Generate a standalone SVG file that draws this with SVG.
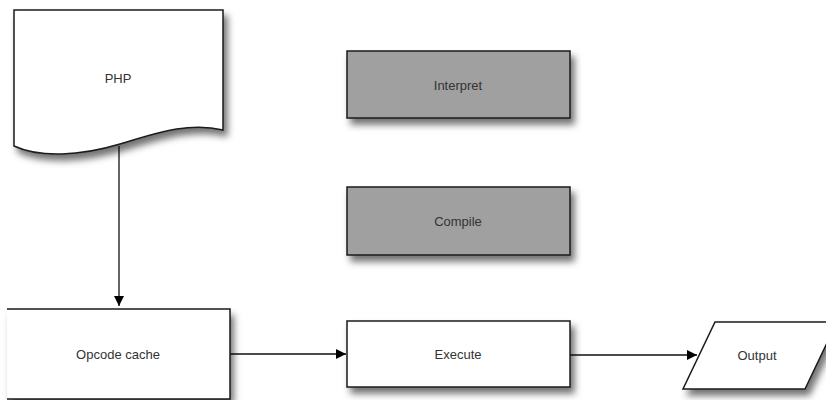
<svg xmlns="http://www.w3.org/2000/svg" width="826" height="400" viewBox="0 0 826 400">
  <defs>
    <filter id="shadow" x="-20%" y="-20%" width="150%" height="160%">
      <feDropShadow dx="4" dy="6" stdDeviation="3.5" flood-color="#000" flood-opacity="0.55"/>
    </filter>
    <marker id="arrow" viewBox="0 0 10 10" refX="10" refY="5" markerWidth="10" markerHeight="10" markerUnits="userSpaceOnUse" orient="auto">
      <path d="M0,0 L10,5 L0,10 Z" fill="#000"/>
    </marker>
  </defs>
  <style>
    .box { stroke: #1a1a1a; stroke-width: 1.5; filter: url(#shadow); }
    .white { fill: #fff; }
    .grey { fill: #a0a0a0; }
    .label { font-family: "Liberation Sans", Arial, sans-serif; font-size: 13px; fill: #333; text-anchor: middle; dominant-baseline: central; }
    .edge { stroke: #111; stroke-width: 1.3; fill: none; marker-end: url(#arrow); }
  </style>
  <rect width="826" height="400" fill="#fff"/>

  <g id="connectors">
    <path class="edge" d="M119,146 L119,306"/>
    <path class="edge" d="M230,354 L346,354"/>
    <path class="edge" d="M570,355 L697,355"/>
  </g>

  <g id="php">
    <path class="box white" d="M14,10 L223,10 L223,130 C190,122 160,132 120,144 C80,156 40,158 14,146 Z"/>
    <text class="label" x="118" y="78">PHP</text>
  </g>

  <g id="interpret">
    <rect class="box grey" x="347" y="51" width="223" height="67"/>
    <text class="label" x="458" y="85">Interpret</text>
  </g>

  <g id="compile">
    <rect class="box grey" x="347" y="187" width="223" height="68"/>
    <text class="label" x="458" y="221">Compile</text>
  </g>

  <g id="opcode-cache">
    <!-- left side runs off the sheet, so only top, right and bottom edges are stroked -->
    <rect x="7" y="309" width="223" height="90" fill="#fff" filter="url(#shadow)"/>
    <path d="M7,309 L230,309 L230,399 L7,399" fill="none" stroke="#1a1a1a" stroke-width="1.5"/>
    <text class="label" x="118" y="354">Opcode cache</text>
  </g>

  <g id="execute">
    <rect class="box white" x="347" y="321" width="223" height="66"/>
    <text class="label" x="458" y="354">Execute</text>
  </g>

  <g id="output">
    <path class="box white" d="M715,322 L837,322 L805,389 L683,389 Z"/>
    <text class="label" x="757" y="355">Output</text>
  </g>
</svg>
